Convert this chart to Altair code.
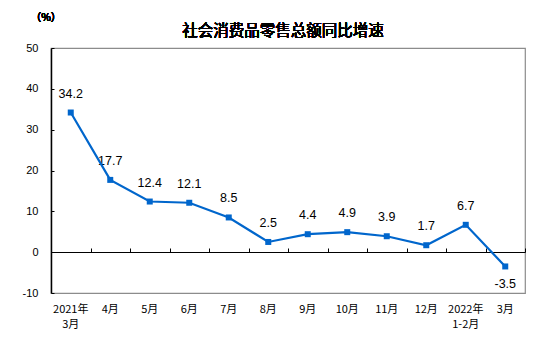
import altair as alt
import pandas as pd

months = ["2021年|3月", "4月", "5月", "6月", "7月", "8月", "9月", "10月", "11月", "12月", "2022年|1-2月", "3月"]
growth = [34.2, 17.7, 12.4, 12.1, 8.5, 2.5, 4.4, 4.9, 3.9, 1.7, 6.7, -3.5]
y_ticks = [-10, 0, 10, 20, 30, 40, 50]

df = pd.DataFrame({"month": months, "value": growth})

BLUE = "#0066CC"
xscale = alt.Scale(paddingInner=0, paddingOuter=0)
yscale = alt.Scale(domain=[-10, 50], nice=False, zero=False)

x_bottom = alt.X("month:N", sort=months, scale=xscale, title=None,
                 axis=alt.Axis(orient="bottom", domain=False, ticks=False, labelAngle=0,
                               labelExpr="split(datum.value, '|')", labelFont="Noto Sans CJK SC",
                               labelFontSize=11, labelFontWeight=400, labelColor="#000000",
                               labelPadding=10, labelLineHeight=15))
y_left = alt.Y("value:Q", scale=yscale, title=None,
               axis=alt.Axis(orient="left", values=y_ticks, grid=False, domain=True,
                             domainColor="#000000", domainWidth=1.5, ticks=False,
                             labelExpr="replace(datum.label, '\u2212', '-')",
                             labelFont="Liberation Sans", labelFontSize=11, labelColor="#000000",
                             labelPadding=13))

line = alt.Chart(df).mark_line(color=BLUE, strokeWidth=2.2,
                               point=alt.OverlayMarkDef(shape="square", filled=True, size=36, color=BLUE)
                               ).encode(x=x_bottom, y=y_left)

x_top = alt.X("month:N", sort=months, scale=xscale, title=None,
              axis=alt.Axis(orient="top", offset=-204, labels=False, domain=True,
                            domainColor="#000000", domainWidth=1.2, ticks=True, tickBand="extent",
                            tickColor="#000000", tickSize=4, tickWidth=1))
y_right = alt.Y("value:Q", scale=yscale, title=None,
                axis=alt.Axis(orient="right", offset=-474, values=y_ticks, grid=False, domain=False,
                              labels=False, ticks=True, tickSize=3, tickColor="#000000"))

label_expr = "replace(format(datum.value, '.1f'), '\u2212', '-')"

text_pos = alt.Chart(df).transform_filter("datum.value >= 0").transform_calculate(
    lbl=label_expr
).mark_text(
    font="Liberation Sans", fontSize=12.5, color="#000000", dy=-19, baseline="middle"
).encode(x=x_top, y=y_right, text="lbl:N")

text_neg = alt.Chart(df).transform_filter("datum.value < 0").transform_calculate(
    lbl=label_expr
).mark_text(
    font="Liberation Sans", fontSize=12.5, color="#000000", dy=18, baseline="middle"
).encode(x=alt.X("month:N", sort=months, scale=xscale, axis=None),
         y=alt.Y("value:Q", scale=yscale, axis=None),
         text="lbl:N")

title = alt.Chart(df).mark_text(font="Noto Sans CJK SC", fontSize=15.5, fontWeight=400,
                                color="#000000", baseline="middle", align="center").encode(
    x=alt.value(232), y=alt.value(-17), text=alt.value("社会消费品零售总额同比增速"))
unit = alt.Chart(df).mark_text(font="Noto Sans CJK SC", fontSize=10.5, fontWeight=400,
                               color="#000000", baseline="middle", align="center").encode(
    x=alt.value(-5), y=alt.value(-30), text=alt.value("（%）"))

chart = alt.layer(text_pos, line, text_neg, title, unit).resolve_axis(
    x="independent", y="independent"
).properties(
    width=474, height=245, autosize="none",
    padding={"left": 51, "top": 48, "right": 29, "bottom": 58},
    background="#ffffff"
).configure_view(stroke="#8c8c8c", strokeWidth=1.2)

chart.save("out.html", embed_options={"renderer": "svg", "actions": False})
